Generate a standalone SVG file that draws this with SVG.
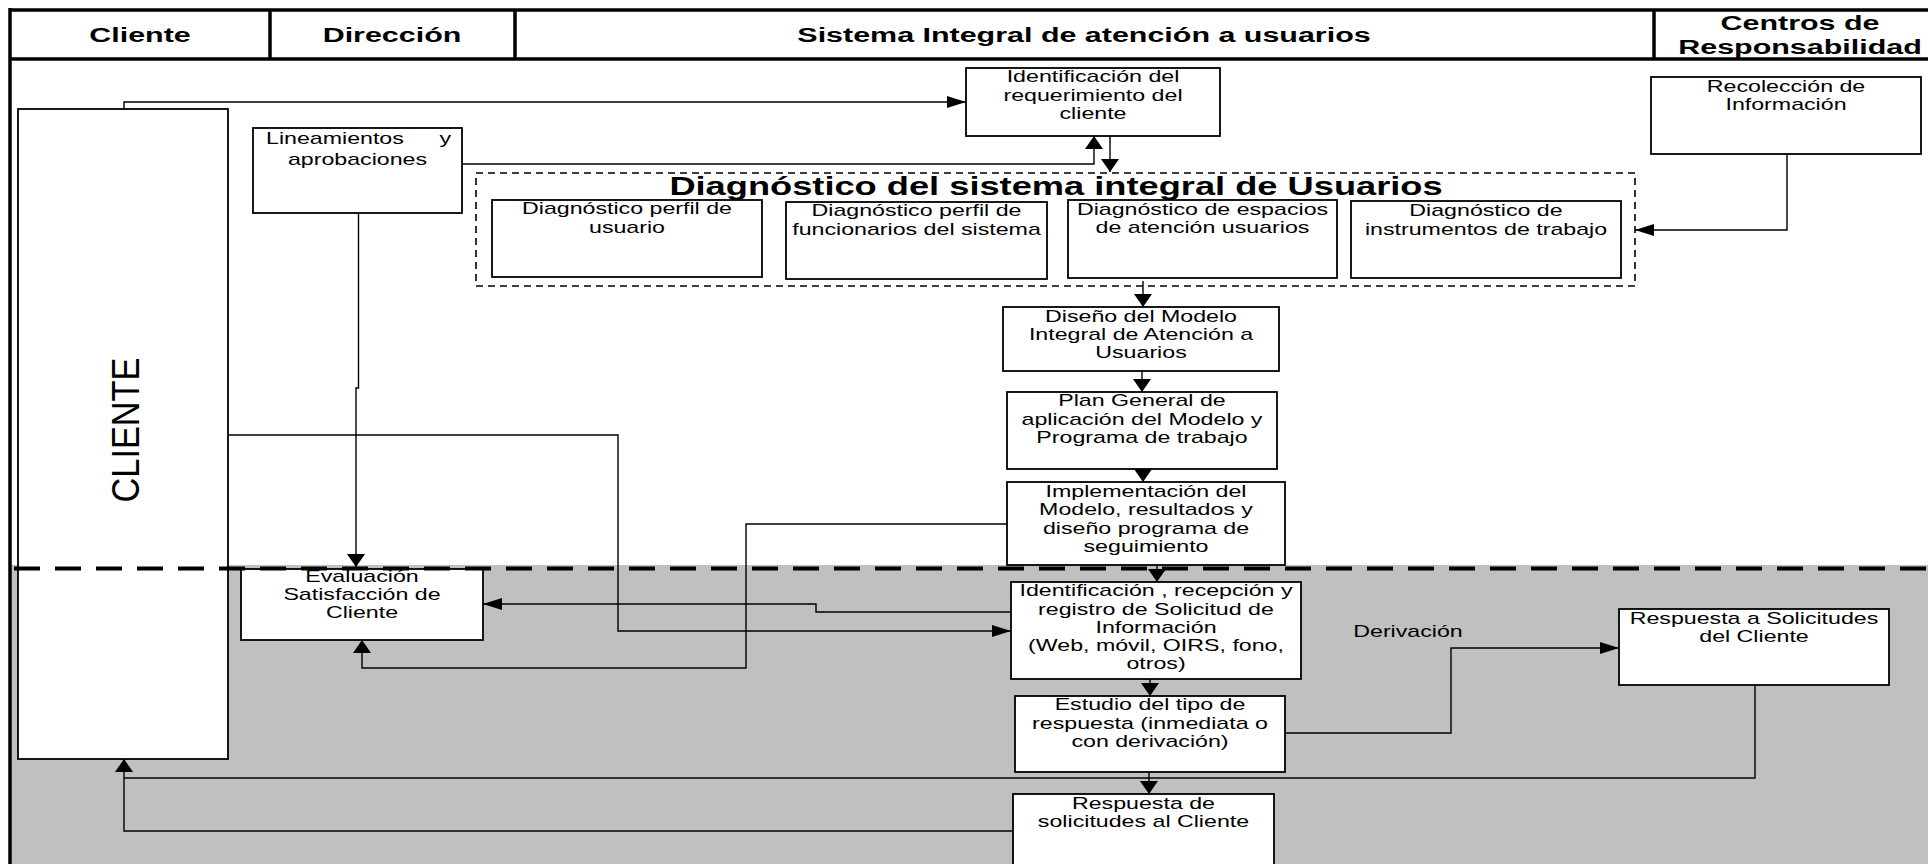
<svg xmlns="http://www.w3.org/2000/svg" width="1928" height="864" viewBox="0 0 1928 864">
<style>
.box{fill:#fff;stroke:#000;stroke-width:1.8}
.t{font-family:"Liberation Sans",Arial,sans-serif;font-size:16px;fill:#000}
.h{font-family:"Liberation Sans",Arial,sans-serif;font-size:21px;font-weight:bold;fill:#000}
.c{fill:none;stroke:#000;stroke-width:1.4}
.frame{stroke:#000;stroke-width:3.5;fill:none}
</style>
<defs>
<marker id="ah" viewBox="0 0 19 12" refX="19" refY="6" markerWidth="19" markerHeight="12" markerUnits="userSpaceOnUse" orient="auto"><path d="M0,0 L19,6 L0,12 Z" fill="#000"/></marker>
<marker id="av" viewBox="0 0 13 18" refX="13" refY="9" markerWidth="13" markerHeight="18" markerUnits="userSpaceOnUse" orient="auto"><path d="M0,0 L13,9 L0,18 Z" fill="#000"/></marker>
</defs>
<rect x="0" y="0" width="1928" height="864" fill="#fff"/>
<rect x="10" y="565" width="1918" height="299" fill="#c0c0c0"/>

<g id="header">
<line class="frame" x1="10" y1="10" x2="1928" y2="10"/>
<line class="frame" x1="10" y1="59" x2="1928" y2="59"/>
<line class="frame" x1="10" y1="8" x2="10" y2="864"/>
<line class="frame" x1="270" y1="10" x2="270" y2="59"/>
<line class="frame" x1="515" y1="10" x2="515" y2="59"/>
<line class="frame" x1="1654" y1="10" x2="1654" y2="59"/>
<g transform="translate(140 0) scale(1.45 1)"><text class="h" text-anchor="middle" x="0" y="42">Cliente</text></g>
<g transform="translate(392 0) scale(1.45 1)"><text class="h" text-anchor="middle" x="0" y="42">Dirección</text></g>
<g transform="translate(1084 0) scale(1.45 1)"><text class="h" text-anchor="middle" x="0" y="42">Sistema Integral de atención a usuarios</text></g>
<g transform="translate(1800 0) scale(1.45 1)"><text class="h" text-anchor="middle"><tspan x="0" y="30">Centros de</tspan><tspan x="0" y="54.5">Responsabilidad</tspan></text></g>
</g>

<g id="cliente">
<rect class="box" x="18" y="109" width="210" height="650"/>
<text transform="translate(139 430) rotate(-90)" x="0" y="0" text-anchor="middle" font-family="'Liberation Sans',Arial,sans-serif" font-size="38" textLength="145" lengthAdjust="spacingAndGlyphs">CLIENTE</text>
</g>

<g id="lineamientos">
<rect class="box" x="253" y="128" width="209" height="85"/>
<g transform="translate(266 0) scale(1.45 1)"><text class="t" x="0" y="144">Lineamientos</text></g>
<g transform="translate(451 0) scale(1.45 1)"><text class="t" text-anchor="end" x="0" y="144">y</text></g>
<g transform="translate(357.5 0) scale(1.45 1)"><text class="t" text-anchor="middle" x="0" y="165">aprobaciones</text></g>
</g>

<g id="ident-req">
<rect class="box" x="966" y="68" width="254" height="68"/>
<g transform="translate(1093 0) scale(1.45 1)"><text class="t" text-anchor="middle"><tspan x="0" y="82.5">Identificación del</tspan><tspan x="0" y="101">requerimiento del</tspan><tspan x="0" y="119.5">cliente</tspan></text></g>
</g>

<g id="recoleccion">
<rect class="box" x="1651" y="77" width="270" height="77"/>
<g transform="translate(1786 0) scale(1.45 1)"><text class="t" text-anchor="middle"><tspan x="0" y="92.5">Recolección de</tspan><tspan x="0" y="110.5">Información</tspan></text></g>
</g>

<g id="diagnostico">
<rect x="476" y="173" width="1159" height="113" fill="none" stroke="#000" stroke-width="1.6" stroke-dasharray="7 5"/>
<g transform="translate(1056 0) scale(1.45 1)"><text text-anchor="middle" x="0" y="195" font-family="'Liberation Sans',Arial,sans-serif" font-size="25" font-weight="bold">Diagnóstico del sistema integral de Usuarios</text></g>
</g>

<g id="diag-usuario">
<rect class="box" x="492" y="200" width="270" height="77"/>
<g transform="translate(627 0) scale(1.45 1)"><text class="t" text-anchor="middle"><tspan x="0" y="214.5">Diagnóstico perfil de</tspan><tspan x="0" y="233.5">usuario</tspan></text></g>
</g>
<g id="diag-funcionarios">
<rect class="box" x="786" y="202" width="261" height="77"/>
<g transform="translate(916.5 0) scale(1.45 1)"><text class="t" text-anchor="middle"><tspan x="0" y="216.5">Diagnóstico perfil de</tspan><tspan x="0" y="235.5">funcionarios del sistema</tspan></text></g>
</g>
<g id="diag-espacios">
<rect class="box" x="1068" y="200" width="269" height="78"/>
<g transform="translate(1202.5 0) scale(1.45 1)"><text class="t" text-anchor="middle"><tspan x="0" y="215.5">Diagnóstico de espacios</tspan><tspan x="0" y="233.5">de atención usuarios</tspan></text></g>
</g>
<g id="diag-instrumentos">
<rect class="box" x="1351" y="201" width="270" height="77"/>
<g transform="translate(1486 0) scale(1.45 1)"><text class="t" text-anchor="middle"><tspan x="0" y="216.5">Diagnóstico de</tspan><tspan x="0" y="235.5">instrumentos de trabajo</tspan></text></g>
</g>

<g id="diseno">
<rect class="box" x="1003" y="307" width="276" height="64"/>
<g transform="translate(1141 0) scale(1.45 1)"><text class="t" text-anchor="middle"><tspan x="0" y="322.5">Diseño del Modelo</tspan><tspan x="0" y="340.5">Integral de Atención a</tspan><tspan x="0" y="358.5">Usuarios</tspan></text></g>
</g>

<g id="plan">
<rect class="box" x="1007" y="392" width="270" height="77"/>
<g transform="translate(1142 0) scale(1.45 1)"><text class="t" text-anchor="middle"><tspan x="0" y="406.5">Plan General de</tspan><tspan x="0" y="425.5">aplicación del Modelo y</tspan><tspan x="0" y="443.5">Programa de trabajo</tspan></text></g>
</g>

<g id="implementacion">
<rect class="box" x="1007" y="482" width="278" height="83"/>
<g transform="translate(1146 0) scale(1.45 1)"><text class="t" text-anchor="middle"><tspan x="0" y="497.5">Implementación del</tspan><tspan x="0" y="515.5">Modelo, resultados y</tspan><tspan x="0" y="534.5">diseño programa de</tspan><tspan x="0" y="552.5">seguimiento</tspan></text></g>
</g>

<g id="evaluacion">
<rect class="box" x="241" y="569" width="242" height="71"/>
<g transform="translate(362 0) scale(1.45 1)"><text class="t" text-anchor="middle"><tspan x="0" y="582.5">Evaluación</tspan><tspan x="0" y="600.5">Satisfacción de</tspan><tspan x="0" y="618.5">Cliente</tspan></text></g>
</g>

<g id="ident-recepcion">
<rect class="box" x="1011" y="582" width="290" height="97"/>
<g transform="translate(1156 0) scale(1.45 1)"><text class="t" text-anchor="middle"><tspan x="0" y="596.5">Identificación , recepción y</tspan><tspan x="0" y="615.5">registro de Solicitud de</tspan><tspan x="0" y="633.5">Información</tspan><tspan x="0" y="651.5">(Web, móvil, OIRS, fono,</tspan><tspan x="0" y="669.5">otros)</tspan></text></g>
</g>

<g id="estudio">
<rect class="box" x="1015" y="696" width="270" height="76"/>
<g transform="translate(1150 0) scale(1.45 1)"><text class="t" text-anchor="middle"><tspan x="0" y="710.5">Estudio del tipo de</tspan><tspan x="0" y="729.5">respuesta (inmediata o</tspan><tspan x="0" y="747.5">con derivación)</tspan></text></g>
</g>

<g id="respuesta-cliente">
<rect class="box" x="1013" y="794" width="261" height="80"/>
<g transform="translate(1143.5 0) scale(1.45 1)"><text class="t" text-anchor="middle"><tspan x="0" y="809.5">Respuesta de</tspan><tspan x="0" y="827.5">solicitudes al Cliente</tspan></text></g>
</g>

<g id="respuesta-solicitudes">
<rect class="box" x="1619" y="609" width="270" height="76"/>
<g transform="translate(1754 0) scale(1.45 1)"><text class="t" text-anchor="middle"><tspan x="0" y="624.5">Respuesta a Solicitudes</tspan><tspan x="0" y="642.5">del Cliente</tspan></text></g>
</g>

<g id="connectors">
<path class="c" d="M124,109 V102 H966" marker-end="url(#ah)"/>
<path class="c" d="M462,164 H1094 V136" marker-end="url(#av)"/>
<path class="c" d="M1110,136 V172" marker-end="url(#av)"/>
<path class="c" d="M1787,154 V230 H1635" marker-end="url(#ah)"/>
<path class="c" d="M1143,281 V307" marker-end="url(#av)"/>
<path class="c" d="M1142,371 V392" marker-end="url(#av)"/>
<path class="c" d="M1143,469 V482" marker-end="url(#av)"/>
<path class="c" d="M1157,565 V582" marker-end="url(#av)"/>
<path class="c" d="M1150,679 V696" marker-end="url(#av)"/>
<path class="c" d="M1149,772 V794" marker-end="url(#av)"/>
<path class="c" d="M1285,733 H1451 V648 H1619" marker-end="url(#ah)"/>
<path class="c" d="M1755,685 V778 H124"/>
<path class="c" d="M1013,831 H124 V759" marker-end="url(#av)"/>
<path class="c" d="M1011,612 H816 V604 H483" marker-end="url(#ah)"/>
<path class="c" d="M228,435 H618 V631 H1011" marker-end="url(#ah)"/>
<path class="c" d="M1007,524 H746 V668 H362 V640" marker-end="url(#av)"/>
<path class="c" d="M358.5,213 V388 H356 V567" marker-end="url(#av)"/>
</g>

<g id="derivacion-label">
<g transform="translate(1408 0) scale(1.45 1)"><text class="t" text-anchor="middle" x="0" y="637" font-size="18">Derivación</text></g>
</g>

<line id="separator" x1="14" y1="568.5" x2="1928" y2="568.5" stroke="#000" stroke-width="4" stroke-dasharray="26 15"/>
</svg>
